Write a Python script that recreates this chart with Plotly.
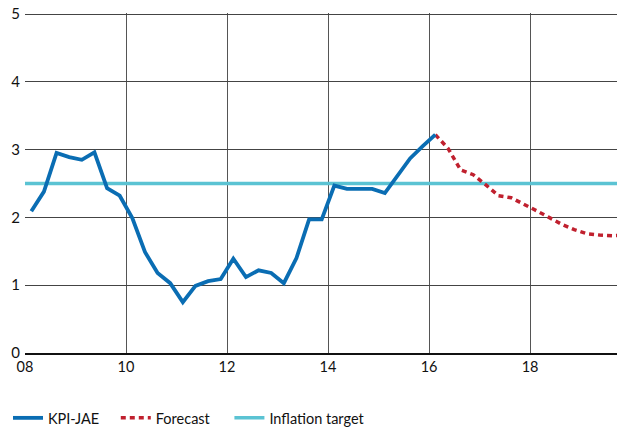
import pandas as pd
import plotly.graph_objs as go

# KPI-JAE, quarterly, 2008Q1 - 2016Q1 (per cent)
kpi_start = "2008Q1"
kpi_values = [
    2.09, 2.38, 2.95, 2.89, 2.85, 2.96, 2.43, 2.32,
    1.99, 1.49, 1.18, 1.03, 0.75, 0.99, 1.06, 1.09,
    1.39, 1.12, 1.22, 1.18, 1.03, 1.40, 1.97, 1.97,
    2.47, 2.42, 2.42, 2.42, 2.36, 2.61, 2.87, 3.05,
    3.22,
]

# Forecast, quarterly, 2016Q1 - 2019Q4
fc_start = "2016Q1"
fc_values = [
    3.22, 3.02, 2.70, 2.63, 2.48, 2.32, 2.29, 2.20,
    2.10, 2.00, 1.90, 1.82, 1.76, 1.74, 1.73, 1.74,
]

# Inflation target
target_years = [2008, 2020]
target_values = [2.5, 2.5]

tick_years = [2008, 2010, 2012, 2014, 2016, 2018]
tick_labels = ["08", "10", "12", "14", "16", "18"]


def quarter_x(start, n):
    # place each quarter in the middle of its span on a decimal-year axis
    q = pd.period_range(start, periods=n, freq="Q")
    return [p.year + (p.quarter - 0.5) / 4 for p in q]


FONT = "Lato, 'Open Sans', sans-serif"
TXT = "#111111"

fig = go.Figure()

fig.add_trace(
    go.Scatter(
        x=target_years,
        y=target_values,
        mode="lines",
        name="Inflation target",
        line={"color": "#5bc3d3", "width": 3.5},
        legend="legend3",
    )
)

fig.add_trace(
    go.Scatter(
        x=quarter_x(fc_start, len(fc_values)),
        y=fc_values,
        mode="lines",
        name="Forecast",
        line={"color": "#c0202e", "width": 3.5, "dash": "5px,4px"},
        legend="legend2",
    )
)

fig.add_trace(
    go.Scatter(
        x=quarter_x(kpi_start, len(kpi_values)),
        y=kpi_values,
        mode="lines",
        name="KPI-JAE",
        line={"color": "#0a6db3", "width": 3.8},
        legend="legend",
    )
)


# one legend per entry so each can sit where the original has it
# (container-relative y so the legends don't push the bottom margin)
def legend_at(x):
    return {
        "orientation": "h",
        "x": x,
        "xanchor": "left",
        "y": 0.0665,
        "yref": "container",
        "yanchor": "top",
        "bgcolor": "rgba(0,0,0,0)",
        "font": {"family": FONT, "size": 14.5, "color": TXT},
    }


# the page body adds an 8px margin, so the figure is sized to what is visible
fig.update_layout(
    width=617,
    height=422,
    margin={"l": 17, "r": 0, "t": 5, "b": 77},
    paper_bgcolor="white",
    plot_bgcolor="white",
    font={"family": FONT, "size": 14, "color": TXT},
    showlegend=True,
    legend=legend_at(-0.0413),
    legend2=legend_at(0.1513),
    legend3=legend_at(0.3407),
    xaxis={
        "range": [2008, 2019.88],
        "tickvals": tick_years,
        "ticktext": tick_labels,
        "showgrid": True,
        "gridcolor": "#555555",
        "gridwidth": 1,
        "zeroline": False,
        "showline": True,
        "linecolor": "#111111",
        "linewidth": 2,
        "ticks": "",
        "tickfont": {"size": 14.5},
        "automargin": False,
    },
    yaxis={
        "range": [0, 5.015],
        "tickvals": [0, 1, 2, 3, 4, 5],
        "showgrid": True,
        "gridcolor": "#444444",
        "gridwidth": 1,
        "zeroline": False,
        "showline": False,
        "ticks": "",
        "tickfont": {"size": 15},
        "ticklabelstandoff": 4,
        "ticklabeloverflow": "allow",
        "automargin": False,
    },
)

fig.write_html("out.html")
